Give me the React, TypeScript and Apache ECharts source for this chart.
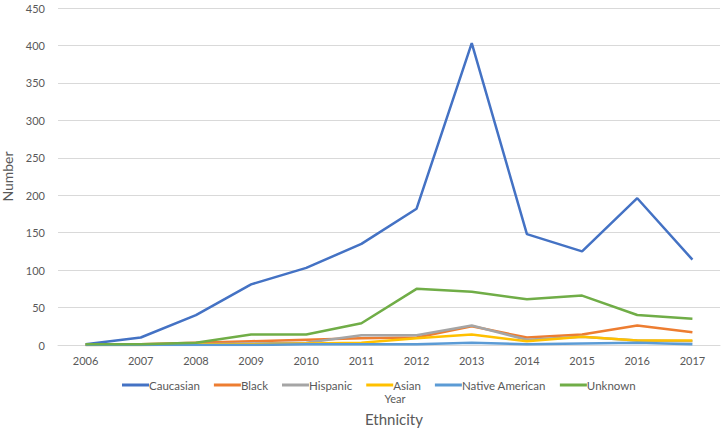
import React, { useEffect, useRef } from "react";
import * as echarts from "echarts";

const years = ["2006", "2007", "2008", "2009", "2010", "2011", "2012", "2013", "2014", "2015", "2016", "2017"];
const caucasian = [1, 10, 40, 81, 103, 135, 182, 403, 148, 125, 196, 114];
const black = [0, 1, 3, 5, 7, 9, 10, 25, 10, 14, 26, 17];
const hispanic = [0, 0, 1, 2, 3, 13, 13, 26, 7, 11, 6, 5];
const asian = [0, 0, 1, 1, 2, 3, 9, 14, 5, 11, 6, 6];
const nativeAmerican = [0, 0, 0, 0, 1, 1, 1, 3, 1, 2, 3, 1];
const unknown = [1, 1, 3, 14, 14, 29, 75, 71, 61, 66, 40, 35];

const seriesNames = ["Caucasian", "Black", "Hispanic", "Asian", "Native American", "Unknown"];
const seriesData = [caucasian, black, hispanic, asian, nativeAmerican, unknown];
const colors = ["#4472C4", "#ED7D31", "#A5A5A5", "#FFC000", "#5B9BD5", "#70AD47"];

const FONT = "Lato, 'Open Sans', sans-serif";

export default function App() {
  const ref = useRef<HTMLDivElement>(null);
  useEffect(() => {
    if (!ref.current) return;
    const chart = echarts.init(ref.current, null, { renderer: "svg" });
    chart.setOption({
      animation: false,
      color: colors,
      textStyle: { fontFamily: FONT },
      grid: { left: 58, right: 4, top: 8, bottom: 84, containLabel: false, outerBoundsMode: "none" },
      title: [
        {
          text: "Ethnicity",
          left: 394,
          top: 411,
          padding: 0,
          textAlign: "center",
          textStyle: { fontSize: 15, fontWeight: "normal", color: "#595959", fontFamily: FONT },
        },
        {
          text: "Year",
          left: 395,
          top: 392,
          padding: 0,
          textAlign: "center",
          textStyle: { fontSize: 11, lineHeight: 12, fontWeight: "normal", color: "#595959", fontFamily: FONT },
        },
      ],
      legend: {
        data: seriesNames,
        left: 122,
        top: 379,
        padding: 0,
        itemWidth: 27,
        itemHeight: 3,
        itemGap: 14,
        icon: "rect",
        textStyle: { fontSize: 11.5, lineHeight: 12, color: "#595959", fontFamily: FONT, padding: [0, 0, 0, -5] },
      },
      xAxis: {
        type: "category",
        data: years,
        boundaryGap: true,
        axisLine: { show: true, lineStyle: { color: "#D9D9D9", width: 1 } },
        axisTick: { show: false },
        axisLabel: { color: "#595959", fontSize: 11, margin: 10, fontFamily: FONT },
      },
      yAxis: {
        type: "value",
        min: 0,
        max: 450,
        interval: 50,
        name: "Number",
        nameLocation: "middle",
        nameGap: 40,
        nameTextStyle: { fontSize: 14, color: "#595959", fontFamily: FONT },
        axisLine: { show: false },
        axisTick: { show: false },
        axisLabel: { color: "#595959", fontSize: 11, margin: 13, fontFamily: FONT },
        splitLine: { lineStyle: { color: "#D9D9D9", width: 1 } },
      },
      series: seriesNames.map((n, i) => ({
        name: n,
        type: "line",
        data: seriesData[i],
        showSymbol: false,
        symbol: "none",
        lineStyle: { width: 2.5, color: colors[i] },
        itemStyle: { color: colors[i] },
      })),
    });
    return () => chart.dispose();
  }, []);
  return <div ref={ref} style={{ width: 724, height: 429, position: "absolute", left: 0, top: 0 }} />;
}
